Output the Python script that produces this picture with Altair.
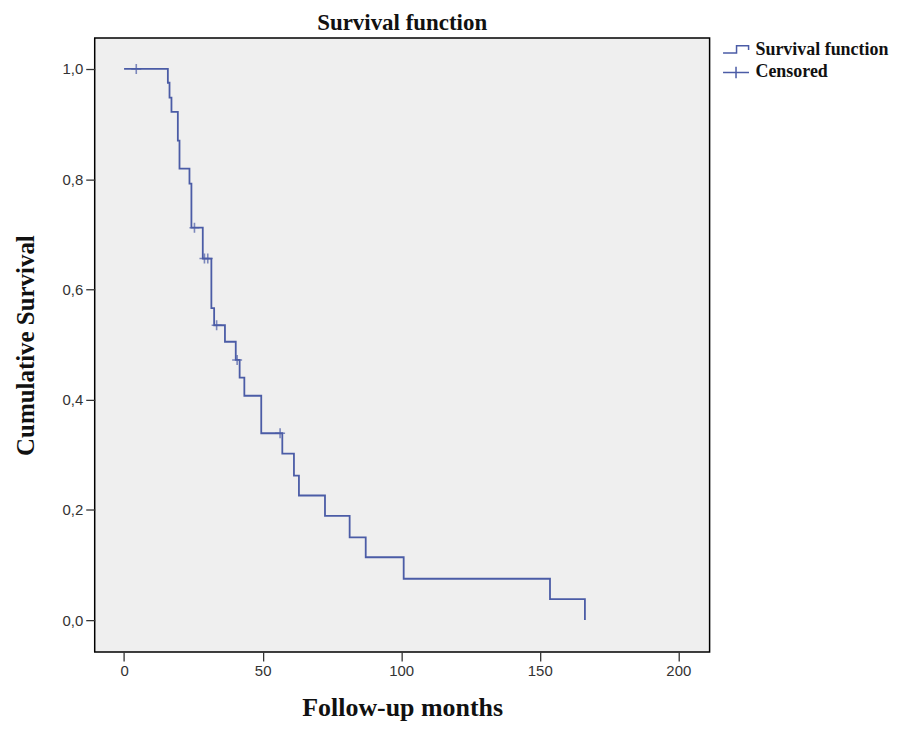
import altair as alt
import pandas as pd

# Kaplan-Meier step curve (time in months, survival after event)
step_time = [0.0, 15.8, 16.4, 17.1, 19.4, 20.0, 23.6, 24.3, 28.4, 31.5, 32.5, 36.4,
             40.3, 41.7, 43.4, 49.5, 57.1, 61.3, 63.1, 72.5, 81.4, 87.2, 100.9, 153.7, 166.3]
step_surv = [1.0, 0.975, 0.948, 0.922, 0.870, 0.819, 0.792, 0.712, 0.656, 0.566, 0.535, 0.505,
             0.472, 0.440, 0.407, 0.339, 0.302, 0.262, 0.226, 0.189, 0.150, 0.114, 0.075, 0.038, 0.0]

# Censored observations
cens_time = [4.4, 25.4, 29.0, 30.2, 33.4, 40.8, 56.3]
cens_surv = [1.0, 0.712, 0.656, 0.656, 0.535, 0.472, 0.339]

legend_labels = ["Survival function", "Censored"]
x_ticks = [0, 50, 100, 150, 200]
y_ticks = [0.0, 0.2, 0.4, 0.6, 0.8, 1.0]

blue = "#4b5ca6"

steps = pd.DataFrame({"t": step_time, "s": step_surv})
cens = pd.DataFrame({"t": cens_time, "s": cens_surv, "series": ["Censored"] * len(cens_time)})

xscale = alt.Scale(domain=[-10.6, 211.3], nice=False, zero=False)
yscale = alt.Scale(domain=[-0.058, 1.056], nice=False, zero=False)

xaxis = alt.Axis(title="Follow-up months", values=x_ticks, grid=False, domain=False,
                 tickColor="#333333", tickSize=9, tickWidth=1.3, labelFont="Liberation Sans",
                 labelFontSize=15, labelColor="#333333", labelPadding=3,
                 titleFont="Liberation Serif", titleFontSize=26, titleFontWeight="bold",
                 titleColor="#111111", titlePadding=16)
yaxis = alt.Axis(title="Cumulative  Survival", values=y_ticks, grid=False, domain=False,
                 tickColor="#333333", tickSize=9, tickWidth=1.3, labelFont="Liberation Sans",
                 labelFontSize=15, labelColor="#333333", labelPadding=3,
                 labelExpr="replace(format(datum.value, '.1f'), '.', ',')",
                 titleFont="Liberation Serif", titleFontSize=25, titleFontWeight="bold",
                 titleColor="#111111", titlePadding=24)

line = alt.Chart(steps).mark_line(interpolate="step-after", color=blue, strokeWidth=1.8).encode(
    x=alt.X("t:Q", scale=xscale, axis=xaxis),
    y=alt.Y("s:Q", scale=yscale, axis=yaxis),
)

# censor markers: plus signs
points = alt.Chart(cens).mark_point(filled=False, color=blue, size=100, strokeWidth=1.6,
                                    shape="M-1,0H1M0,-1V1").encode(
    x=alt.X("t:Q", scale=xscale),
    y=alt.Y("s:Q", scale=yscale),
)

# invisible layer carrying the legend
step_path = "M-1.24,0.32H0.05V-0.36H1.2V0.05"
plus_path = "M-1.24,0H1.24M0,-0.55V0.55"
legend_layer = alt.Chart(cens).mark_point(filled=False, color=blue, opacity=0).encode(
    x=alt.X("t:Q", scale=xscale),
    y=alt.Y("s:Q", scale=yscale),
    shape=alt.Shape("series:N",
                    scale=alt.Scale(domain=legend_labels, range=[step_path, plus_path]),
                    legend=alt.Legend(title=None, orient="none", legendX=632, legendY=0,
                                      symbolSize=441, symbolStrokeColor=blue,
                                      symbolFillColor="transparent", symbolStrokeWidth=1.5,
                                      symbolOpacity=1,
                                      labelFont="Liberation Serif", labelFontSize=18,
                                      labelFontWeight="bold", labelColor="#111111",
                                      labelOffset=8, rowPadding=2, padding=0)),
)

chart = alt.layer(line, points, legend_layer).properties(
    width=617, height=616,
    background="white",
    title=alt.Title("Survival function", font="Liberation Serif", fontSize=23,
                    fontWeight="bold", color="#111111", anchor="middle", offset=3),
    autosize=alt.AutoSizeParams(type="none"),
    padding={"left": 87, "top": 29, "right": 180, "bottom": 70},
).configure_view(fill="#efefef", stroke="black", strokeWidth=1.5)

chart.save("out.html", embed_options={"renderer": "svg", "actions": False})
